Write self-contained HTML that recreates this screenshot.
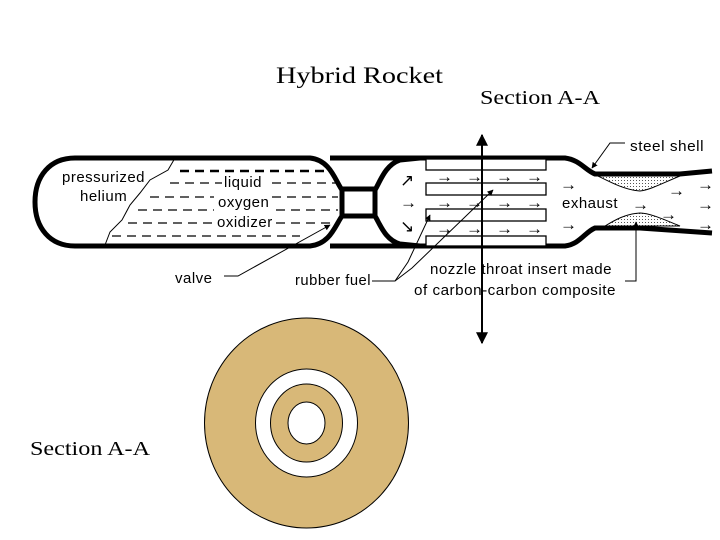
<!DOCTYPE html>
<html><head><style>
html,body{margin:0;padding:0;background:#fff;}
svg{display:block;}
.s{font-family:"Liberation Serif",serif;fill:#000;}
.l{font-family:"Liberation Sans",sans-serif;fill:#000;font-size:15px;letter-spacing:0.5px;}
</style></head><body>
<svg width="720" height="540" viewBox="0 0 720 540" xmlns="http://www.w3.org/2000/svg">
<defs>
<pattern id="dots" width="3" height="3" patternUnits="userSpaceOnUse"><rect width="3" height="3" fill="#fff"/><rect width="1" height="1" fill="#555"/></pattern>
<marker id="ah" viewBox="0 0 10 10" refX="9" refY="5" markerWidth="6" markerHeight="6" orient="auto-start-reverse"><path d="M0,0 L10,5 L0,10 z" fill="#000"/></marker>
</defs>
<text class="s" x="276" y="83" font-size="23" textLength="167" lengthAdjust="spacingAndGlyphs">Hybrid Rocket</text>
<text class="s" x="480" y="104" font-size="20" textLength="120" lengthAdjust="spacingAndGlyphs">Section A-A</text>
<text class="s" x="30" y="455" font-size="20" textLength="120" lengthAdjust="spacingAndGlyphs">Section A-A</text>

<path d="M105,245 L110,232 L122,220 L130,205 L140,193 L150,180 L168,170 L175,158" fill="none" stroke="#000" stroke-width="1"/>
<g stroke="#000" stroke-width="1.2" stroke-dasharray="9,6">
<line x1="180" y1="171" x2="332" y2="171" stroke-width="2.5"/>
<line x1="170" y1="183" x2="222" y2="183"/><line x1="272" y1="183" x2="336" y2="183"/>
<line x1="150" y1="197" x2="214" y2="197"/><line x1="272" y1="197" x2="338" y2="197"/>
<line x1="138" y1="210" x2="214" y2="210"/><line x1="276" y1="210" x2="338" y2="210"/>
<line x1="128" y1="223" x2="214" y2="223"/><line x1="276" y1="223" x2="332" y2="223"/>
<line x1="112" y1="236" x2="300" y2="236"/>
</g>
<path d="M75,158 L310,158 C330,160 335,180 342,190 L342,216 C335,226 330,244 310,246 L75,246 C50,246 35,228 35,202 C35,176 50,158 75,158 Z" fill="none" stroke="#000" stroke-width="5"/>
<rect x="342" y="189" width="33" height="27" fill="none" stroke="#000" stroke-width="5"/>
<line x1="330" y1="246" x2="420" y2="246" stroke="#000" stroke-width="5"/>
<line x1="330" y1="158" x2="420" y2="158" stroke="#000" stroke-width="5"/>
<path d="M375,190 C380,182 385,165 400,160 L420,158 L565,158 C580,160 585,170 595,174 L680,174 L712,171" fill="none" stroke="#000" stroke-width="5"/>
<path d="M375,216 C380,224 385,240 400,244 L420,246 L565,246 C580,244 585,232 595,228 L640,228 L712,233" fill="none" stroke="#000" stroke-width="5"/>
<path d="M598,176 L680,176 C665,182 650,190 640,191 C625,190 610,182 598,176 Z" fill="url(#dots)" stroke="#000" stroke-width="1"/>
<path d="M605,226 L680,226 C665,220 650,213 640,213 C625,214 615,220 605,226 Z" fill="url(#dots)" stroke="#000" stroke-width="1"/>
<g fill="#fff" stroke="#000" stroke-width="1.3">
<rect x="426" y="159" width="120" height="11"/>
<rect x="426" y="183" width="120" height="12"/>
<rect x="426" y="209" width="120" height="12"/>
<rect x="426" y="236" width="120" height="10"/>
</g>
<g font-family="Liberation Sans, DejaVu Sans, sans-serif" font-size="17" fill="#000">
<text x="400" y="186">↗</text><text x="400" y="208">→</text><text x="400" y="232">↘</text>
<text x="436" y="182">→</text><text x="466" y="182">→</text><text x="496" y="182">→</text><text x="526" y="182">→</text>
<text x="436" y="208">→</text><text x="466" y="208">→</text><text x="496" y="208">→</text><text x="526" y="208">→</text>
<text x="436" y="234">→</text><text x="466" y="234">→</text><text x="496" y="234">→</text><text x="526" y="234">→</text>
<text x="560" y="190">→</text><text x="560" y="230">→</text>
<text x="632" y="210">→</text><text x="668" y="196">→</text><text x="660" y="220">→</text>
<text x="697" y="190">→</text><text x="697" y="210">→</text><text x="697" y="230">→</text>
</g>
<line x1="482" y1="135" x2="482" y2="343" stroke="#000" stroke-width="2" marker-start="url(#ah)" marker-end="url(#ah)"/>
<text class="l" x="62" y="182" textLength="83" lengthAdjust="spacingAndGlyphs">pressurized</text>
<text class="l" x="80" y="201">helium</text>
<text class="l" x="224" y="187">liquid</text>
<text class="l" x="218" y="207">oxygen</text>
<text class="l" x="217" y="227">oxidizer</text>
<text class="l" x="175" y="283">valve</text>
<text class="l" x="295" y="285" textLength="76" lengthAdjust="spacingAndGlyphs">rubber fuel</text>
<text class="l" x="430" y="274" textLength="182" lengthAdjust="spacingAndGlyphs">nozzle throat insert made</text>
<text class="l" x="414" y="295" textLength="202" lengthAdjust="spacingAndGlyphs">of carbon-carbon composite</text>
<text class="l" x="562" y="208">exhaust</text>
<text class="l" x="630" y="151" textLength="74" lengthAdjust="spacingAndGlyphs">steel shell</text>
<g fill="none" stroke="#000" stroke-width="1">
<path d="M224,276 L238,276 L330,225" marker-end="url(#ah)"/>
<path d="M372,281 L395,281 L408,262 L430,215" marker-end="url(#ah)"/>
<path d="M395,281 L412,268 L493,190" marker-end="url(#ah)"/>
<path d="M625,143 L610,143 L592,168" marker-end="url(#ah)"/>
<path d="M625,281 L636,281 L636,222" marker-end="url(#ah)"/>
</g>
<ellipse cx="306.5" cy="423" rx="102" ry="105" fill="#d8b878" stroke="#000" stroke-width="1"/>
<ellipse cx="306.5" cy="423" rx="51" ry="54" fill="#fff" stroke="#000" stroke-width="1"/>
<ellipse cx="306.5" cy="423" rx="36" ry="39" fill="#d8b878" stroke="#000" stroke-width="1"/>
<ellipse cx="306.5" cy="423" rx="18.5" ry="21" fill="#fff" stroke="#000" stroke-width="1"/>
</svg>
</body></html>
